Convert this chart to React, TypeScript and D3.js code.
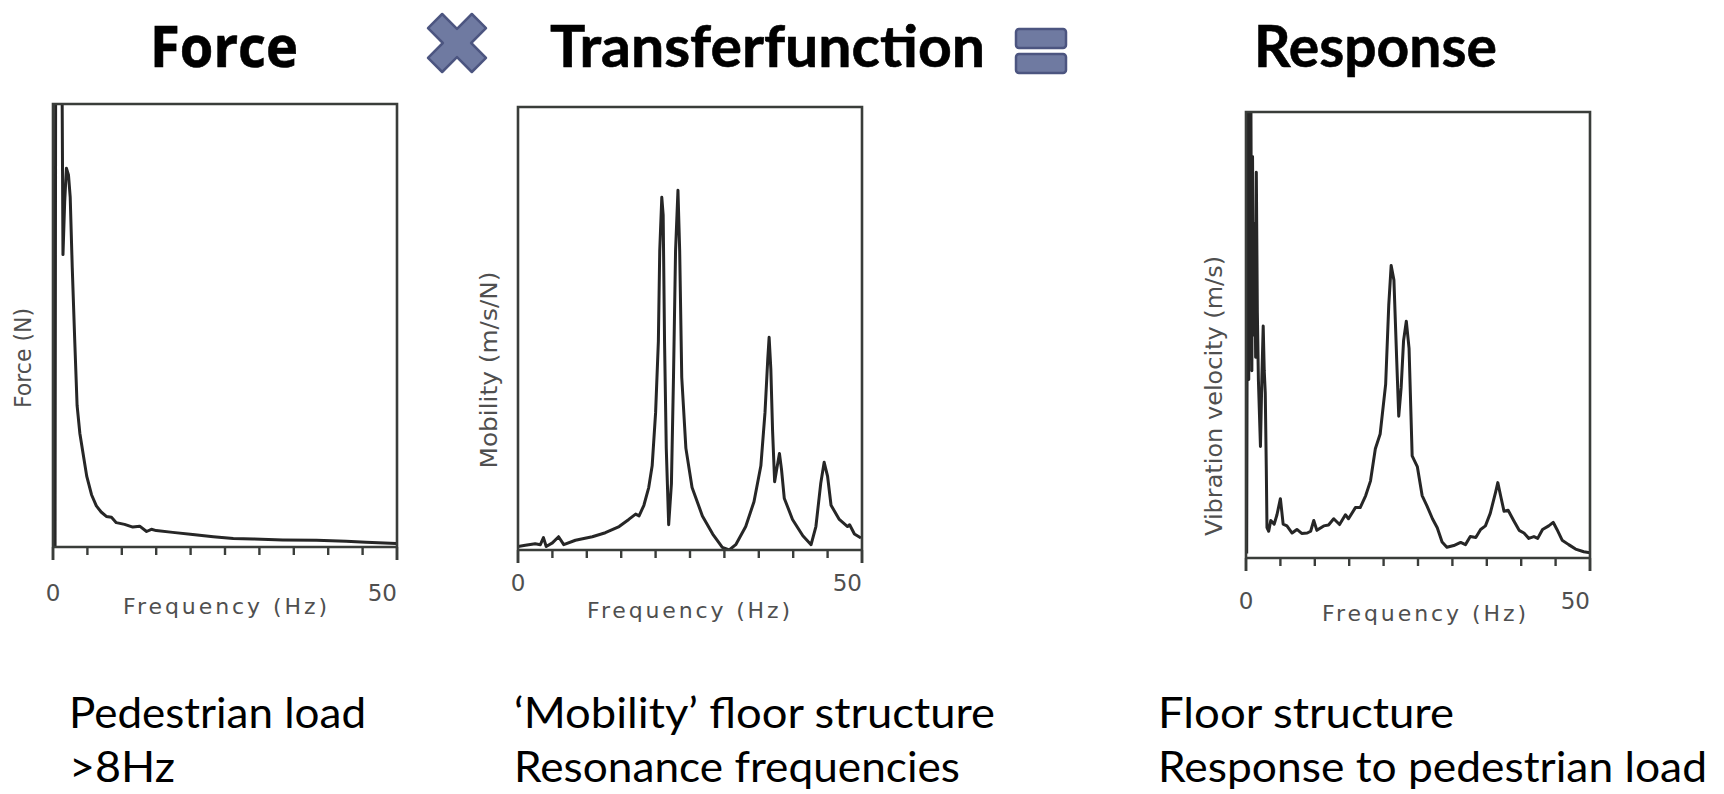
import React from "react";
import * as d3 from "d3";

// ---------- data ----------
const freqTickValues = [0, 5, 10, 15, 20, 25, 30, 35, 40, 45, 50];
const freqTickLabels = ["0", "50"];
const xAxisTitle = "Frequency (Hz)";

const titleLabels = ["Force", "Transferfunction", "Response"];
const yAxisTitles = ["Force (N)", "Mobility (m/s/N)", "Vibration velocity (m/s)"];
const captionLine1 = ["Pedestrian load", "\u2018Mobility\u2019 floor structure", "Floor structure"];
const captionLine2 = [">8Hz", "Resonance frequencies", "Response to pedestrian load"];

const forceFreq = [0, 0.3, 0.4, 1.25, 1.45, 1.7, 1.95, 2.25, 2.5, 2.8, 3.15, 3.5, 3.9, 4.4, 4.9, 5.6, 6.3, 7.0, 7.75, 8.5, 9.2, 10.4, 11.6, 12.6, 13.6, 14.3, 15.0, 17.4, 20.3, 23.3, 26.2, 29.1, 33.4, 38.3, 42.6, 45.5, 49.9];
const forceVal = [0, 0, 125, 125, 66, 78, 85.5, 84, 79, 63, 47, 32, 25.7, 20.8, 16, 11.8, 9.3, 7.9, 6.9, 6.7, 5.5, 5.1, 4.5, 4.7, 3.5, 4.0, 3.7, 3.3, 2.8, 2.3, 1.9, 1.8, 1.6, 1.5, 1.3, 1.05, 0.8];

const mobFreq = [0, 1.07, 2.5, 3.25, 3.7, 4.1, 5.0, 5.9, 6.65, 8.35, 10.8, 12.7, 14.7, 16.1, 17.1, 17.6, 18.3, 19.0, 19.5, 20.0, 20.4, 20.6, 20.9, 21.1, 21.3, 21.55, 21.9, 22.3, 22.6, 22.9, 23.25, 23.5, 23.8, 24.4, 25.3, 26.8, 28.3, 29.7, 30.7, 31.65, 33.1, 34.3, 35.3, 35.9, 36.3, 36.5, 36.75, 37.0, 37.3, 37.6, 38.0, 38.3, 38.7, 39.9, 41.4, 42.6, 43.3, 44.0, 44.5, 45.0, 45.5, 46.7, 47.9, 48.2, 48.9, 49.85];
const mobVal = [0.8, 1.05, 1.4, 1.2, 2.8, 0.8, 1.6, 3.0, 1.2, 2.2, 3.0, 3.9, 5.3, 6.9, 8.1, 7.7, 10.1, 14.1, 19, 31, 47, 67.5, 79.6, 75.6, 47, 23, 5.7, 15, 39, 67.5, 81.2, 67.5, 39, 23, 14.1, 7.7, 3.6, 0.6, 0, 1.2, 5.3, 10.9, 19, 31, 43, 48, 40.8, 27, 15.4, 18.2, 21.8, 18.2, 11.7, 6.9, 3.2, 1.2, 5.3, 15, 19.8, 16.6, 10.1, 6.9, 5.3, 5.7, 3.6, 2.7];

const respFreq = [0.1, 0.25, 0.4, 0.5, 0.62, 0.72, 0.85, 0.95, 1.1, 1.25, 1.4, 1.5, 1.65, 1.8, 2.1, 2.3, 2.5, 2.65, 2.8, 2.95, 3.05, 3.3, 3.6, 4.1, 4.5, 5.0, 5.4, 5.95, 6.7, 7.4, 8.1, 8.9, 9.4, 9.85, 10.3, 11.3, 12.0, 12.75, 13.6, 14.45, 14.9, 15.9, 16.6, 17.4, 18.1, 18.8, 19.5, 20.3, 20.75, 21.1, 21.5, 21.9, 22.2, 22.55, 22.9, 23.3, 23.7, 24.15, 24.9, 25.6, 26.3, 27.1, 27.8, 28.5, 29.2, 30.2, 31.2, 31.9, 32.6, 33.4, 34.1, 34.8, 35.5, 36.3, 36.6, 37.0, 37.5, 38.1, 38.9, 39.7, 40.4, 41.1, 41.85, 42.4, 43.1, 44.0, 44.65, 45.2, 45.95, 46.9, 47.9, 49.1, 50];
const respVal = [1, 110, 40, 108, 48, 100, 42, 90, 50, 75, 45, 86.5, 55, 40, 25, 40, 52, 42, 37, 20, 6.8, 6, 8.4, 7.6, 9.7, 13.3, 7.6, 7.2, 5.6, 6.4, 5.5, 5.6, 6, 8.4, 6.2, 7.2, 7.4, 8.8, 7.5, 9.7, 8.8, 11.3, 11.3, 14, 17.3, 24.5, 27.8, 39, 56.7, 65.6, 62.3, 44.6, 31.8, 38.2, 48.7, 53.1, 47, 22.9, 20.5, 14, 11.7, 8.8, 6.8, 3.6, 2.4, 2.8, 3.5, 3, 4.8, 4.6, 6.4, 7.2, 10, 14.9, 16.9, 14, 10.5, 10.7, 8.4, 6.2, 5.6, 4.4, 4.8, 4.4, 6.4, 7.2, 8, 6.4, 4, 3, 2, 1.4, 1.2];

// ---------- layout ----------
const panels = [
  { id: "p1", freq: forceFreq, val: forceVal, yTitle: yAxisTitles[0], left: 53, right: 397, top: 104, base: 547,
    yTitleX: 23, yTitleY: 358, yTitleLen: 100, xTitleX: 123, xTitleLen: 204, xTitleY: 614, tickLabelY: 601 },
  { id: "p2", freq: mobFreq, val: mobVal, yTitle: yAxisTitles[1], left: 518, right: 862, top: 107, base: 550,
    yTitleX: 489, yTitleY: 370, yTitleLen: 197, xTitleX: 587, xTitleLen: 203, xTitleY: 618, tickLabelY: 591 },
  { id: "p3", freq: respFreq, val: respVal, yTitle: yAxisTitles[2], left: 1246, right: 1590, top: 112, base: 558,
    yTitleX: 1214, yTitleY: 396, yTitleLen: 280, xTitleX: 1322, xTitleLen: 204, xTitleY: 621, tickLabelY: 609 },
];

const FRAME = "#3a3d3a";
const LINE = "#262626";
const AXIS_TEXT = "#4f4f4f";
const SYMBOL_FILL = "#6f7aa1";
const SYMBOL_STROKE = "#4c5580";

function Panel({ p }: { p: any }) {
  const x = d3.scaleLinear().domain([0, 50]).range([p.left, p.right]);
  const y = d3.scaleLinear().domain([0, 100]).range([p.base, p.top]);
  const line = d3
    .line<number>()
    .x((_, i) => x(p.freq[i]))
    .y((d) => y(d))
    .curve(d3.curveLinear);
  const d = line(p.val) || "";
  const ext = 13;
  return (
    <g>
      <defs>
        <clipPath id={`clip-${p.id}`}>
          <rect x={p.left} y={p.top} width={p.right - p.left} height={p.base - p.top} />
        </clipPath>
      </defs>
      <path d={d} fill="none" stroke={LINE} strokeWidth={3} strokeLinejoin="round" clipPath={`url(#clip-${p.id})`} />
      <path
        d={`M${p.left},${p.base + ext} L${p.left},${p.top} L${p.right},${p.top} L${p.right},${p.base + ext} M${p.left},${p.base} L${p.right},${p.base}`}
        fill="none"
        stroke={FRAME}
        strokeWidth={2.6}
      />
      {freqTickValues.map((v) => (
        <line key={v} x1={x(v)} x2={x(v)} y1={p.base} y2={p.base + (v === 0 || v === 50 ? ext : 8)} stroke={FRAME} strokeWidth={2.4} />
      ))}
      <text x={x(0)} y={p.tickLabelY} textAnchor="middle" fontFamily="DejaVu Sans" fontSize={23} fill={AXIS_TEXT}>
        {freqTickLabels[0]}
      </text>
      <text x={x(50)} y={p.tickLabelY} textAnchor="end" fontFamily="DejaVu Sans" fontSize={23} fill={AXIS_TEXT}>
        {freqTickLabels[1]}
      </text>
      <text x={p.xTitleX} y={p.xTitleY} fontFamily="DejaVu Sans" fontSize={22} fill={AXIS_TEXT} textLength={p.xTitleLen} lengthAdjust="spacing">
        {xAxisTitle}
      </text>
      <text
        transform={`translate(${p.yTitleX},${p.yTitleY}) rotate(-90)`}
        textAnchor="middle"
        dominantBaseline="central"
        fontFamily="DejaVu Sans"
        fontSize={23}
        fill={AXIS_TEXT}
        textLength={p.yTitleLen}
        lengthAdjust="spacingAndGlyphs"
      >
        {p.yTitle}
      </text>
    </g>
  );
}

function Cross({ cx, cy }: { cx: number; cy: number }) {
  const a = 10;
  const L = 31;
  const pts: [number, number][] = [
    [a, L], [a, a], [L, a], [L, -a], [a, -a], [a, -L], [-a, -L], [-a, -a], [-L, -a], [-L, a], [-a, a], [-a, L],
  ];
  const c = Math.SQRT1_2;
  const rot = pts.map(([px, py]) => [cx + (px - py) * c, cy + (px + py) * c]);
  return (
    <polygon
      points={rot.map((q) => q.join(",")).join(" ")}
      fill={SYMBOL_FILL}
      stroke={SYMBOL_STROKE}
      strokeWidth={2.5}
      strokeLinejoin="round"
    />
  );
}

export default function App() {
  const titleFont = "Lato, 'Open Sans', sans-serif";
  return (
    <svg width={1724} height={794} style={{ position: "absolute", left: 0, top: 0, display: "block" }}>
      <rect x={0} y={0} width={1724} height={794} fill="#ffffff" />
      {/* headings */}
      <g stroke="#000" strokeWidth={0.6} fill="#000">
        <text x={150} y={67} fontFamily="'Open Sans', sans-serif" fontWeight={700} fontSize={58} textLength={148} lengthAdjust="spacingAndGlyphs">
          {titleLabels[0]}
        </text>
        <text x={550} y={67} fontFamily={titleFont} fontWeight={700} fontSize={58} textLength={435} lengthAdjust="spacingAndGlyphs">
          {titleLabels[1]}
        </text>
        <text x={1254} y={67} fontFamily={titleFont} fontWeight={700} fontSize={58} textLength={243} lengthAdjust="spacingAndGlyphs">
          {titleLabels[2]}
        </text>
      </g>
      <Cross cx={457} cy={43} />
      <rect x={1016} y={29} width={50} height={19} rx={3} fill={SYMBOL_FILL} stroke={SYMBOL_STROKE} strokeWidth={2.5} />
      <rect x={1016} y={54} width={50} height={19} rx={3} fill={SYMBOL_FILL} stroke={SYMBOL_STROKE} strokeWidth={2.5} />

      {panels.map((p) => (
        <Panel key={p.id} p={p} />
      ))}

      {/* captions */}
      {[
        { x: 69, l1: 297, l2: 106 },
        { x: 514, l1: 481, l2: 446 },
        { x: 1158, l1: 296, l2: 549 },
      ].map((c, i) => (
        <g key={i} fontFamily="Lato, sans-serif" fontSize={43} fill="#000">
          <text x={c.x} y={728} textLength={c.l1} lengthAdjust="spacingAndGlyphs">
            {captionLine1[i]}
          </text>
          <text x={c.x} y={782} textLength={c.l2} lengthAdjust="spacingAndGlyphs">
            {captionLine2[i]}
          </text>
        </g>
      ))}
    </svg>
  );
}
